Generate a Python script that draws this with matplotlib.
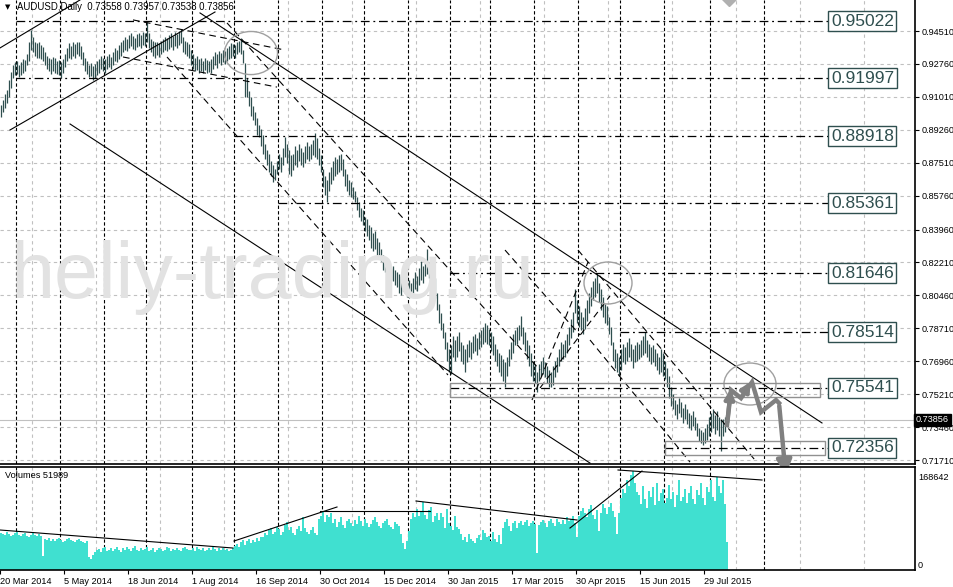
import numpy as np
import matplotlib.pyplot as plt
from matplotlib import font_manager
from matplotlib.patches import Ellipse, Rectangle

_names = {f.name for f in font_manager.fontManager.ttflist}
NARROW = 'Liberation Sans Narrow' if 'Liberation Sans Narrow' in _names else 'Liberation Sans'
plt.rcParams['font.family'] = [NARROW, 'DejaVu Sans']

# daily bars AUDUSD, 20 Mar 2014 .. 13 Aug 2015 (one list entry per bar)
highs = [
    .9060, .9085, .9115, .9140, .9190, .9235, .9270, .9285,  # mar 14
    .9290, .9270, .9285, .9300, .9295, .9330, .9390, .9456, .9420, .9395, .9385,
    .9390, .9375, .9365, .9340, .9320, .9310, .9300, .9315, .9305, .9290, .9295,  # apr
    .9285, .9300, .9330, .9360, .9385, .9370, .9390, .9380, .9395, .9392, .9370,
    .9340, .9310, .9290, .9270, .9280, .9265, .9275, .9290, .9300, .9320, .9310,  # may
    .9300, .9320, .9330, .9315, .9340, .9360, .9350, .9375, .9390, .9405, .9420,
    .9410, .9430, .9440, .9425, .9415, .9435, .9440, .9430, .9445, .9440,  # jun
    .9500, .9440, .9410, .9400, .9390, .9395, .9385, .9400, .9410, .9420, .9415,
    .9430, .9440, .9425, .9445, .9435, .9450, .9460, .9420, .9400, .9390, .9380,  # jul
    .9350, .9330, .9310, .9320, .9300, .9310, .9290, .9305, .9295, .9290, .9300,
    .9320, .9340, .9330, .9345, .9335, .9350, .9345, .9360, .9370, .9385,  # aug
    .9380, .9375, .9395, .9400, .9414, .9350, .9280, .9200, .9130, .9100, .9050,
    .9020, .8990, .8950, .8930, .8900, .8850, .8820, .8800, .8760, .8740, .8720,  # sep
    .8760, .8800, .8780, .8830, .8890, .8850, .8820, .8790, .8800, .8840, .8820,
    .8850, .8830, .8810, .8840, .8860, .8840, .8850, .8870, .8910, .8880, .8830,  # oct
    .8790, .8720, .8680, .8660, .8700, .8730, .8760, .8780, .8770, .8790, .8795,
    .8770, .8720, .8690, .8660, .8650, .8620, .8600, .8570, .8540, .8510,  # nov
    .8500, .8460, .8450, .8420, .8410, .8380, .8390, .8350, .8330, .8290, .8260,
    .8240, .8210, .8200, .8190, .8200, .8180, .8170, .8160, .8150, .8170, .8160,  # dec
    .8150, .8130, .8110, .8140, .8170, .8150, .8190, .8230, .8200, .8240, .8290,
    .8220, .8200, .8180, .8140, .8060, .8000, .7950, .7900, .7850, .7800, .7760,  # jan 15
    .7780, .7830, .7810, .7830, .7850, .7800, .7780, .7760, .7790, .7810,
    .7800, .7830, .7840, .7820, .7850, .7860, .7880, .7900, .7890, .7870,  # feb
    .7850, .7830, .7790, .7760, .7740, .7730, .7710, .7690, .7720, .7760, .7800,
    .7840, .7860, .7880, .7890, .7935, .7880, .7850, .7810, .7780, .7740, .7700,  # mar
    .7680, .7640, .7680, .7700, .7720, .7690, .7670, .7650, .7640, .7670, .7700,
    .7720, .7760, .7800, .7790, .7810, .7840, .7880, .7920, .7960, .8078, .8020,  # apr
    .7990, .7960, .7930, .7980, .8020, .8060, .8090, .8120, .8140, .8163, .8110,
    .8080, .8040, .8000, .7990, .7930, .7880, .7800, .7760, .7740, .7720,  # may
    .7760, .7790, .7770, .7800, .7820, .7790, .7760, .7780, .7800, .7790, .7810,
    .7830, .7850, .7810, .7790, .7770, .7780, .7760, .7740, .7720, .7760, .7740,  # jun
    .7700, .7660, .7620, .7560, .7520, .7490, .7470, .7500, .7480, .7450, .7470,
    .7440, .7420, .7410, .7430, .7400, .7370, .7340, .7330, .7320, .7340, .7360,  # jul
    .7400, .7420, .7440, .7410, .7430, .7400, .7390, .7390, .7400, .7396,  # aug
]
lows = [
    .8995, .9020, .9040, .9070, .9100, .9150, .9200, .9215,
    .9220, .9205, .9215, .9230, .9240, .9270, .9290, .9350, .9340, .9320, .9305,
    .9310, .9300, .9290, .9270, .9250, .9240, .9225, .9240, .9230, .9220, .9215,
    .9200, .9230, .9260, .9290, .9310, .9300, .9320, .9310, .9330, .9320, .9300,
    .9270, .9240, .9220, .9205, .9210, .9190, .9200, .9215, .9230, .9250, .9240,
    .9230, .9250, .9260, .9250, .9270, .9290, .9285, .9300, .9320, .9340, .9350,
    .9345, .9360, .9370, .9355, .9350, .9365, .9370, .9360, .9375, .9370,
    .9390, .9360, .9340, .9320, .9310, .9325, .9315, .9330, .9340, .9350, .9345,
    .9355, .9365, .9350, .9370, .9360, .9375, .9385, .9340, .9330, .9320, .9305,
    .9270, .9250, .9240, .9245, .9230, .9240, .9230, .9245, .9228, .9235, .9230,
    .9250, .9270, .9255, .9280, .9270, .9285, .9275, .9290, .9300, .9310,
    .9320, .9310, .9330, .9340, .9330, .9280, .9100, .9100, .9050, .9000, .8980,
    .8950, .8900, .8890, .8840, .8800, .8770, .8740, .8700, .8680, .8650, .8660,
    .8690, .8720, .8700, .8740, .8780, .8750, .8690, .8680, .8710, .8740, .8730,
    .8760, .8740, .8730, .8750, .8770, .8760, .8770, .8790, .8780, .8770, .8740,
    .8700, .8620, .8580, .8540, .8600, .8640, .8660, .8680, .8690, .8700, .8710,
    .8680, .8630, .8600, .8580, .8570, .8560, .8540, .8500, .8460, .8440,
    .8420, .8390, .8360, .8340, .8300, .8280, .8290, .8260, .8250, .8230, .8180,
    .8170, .8150, .8140, .8130, .8120, .8100, .8090, .8060, .8050, .8070, .8060,
    .8040, .8030, .8040, .8060, .8080, .8070, .8100, .8130, .8110, .8150, .8160,
    .8140, .8120, .8100, .8030, .7970, .7900, .7860, .7820, .7760, .7700, .7640,
    .7626, .7720, .7700, .7720, .7750, .7700, .7680, .7640, .7690, .7720,
    .7710, .7740, .7750, .7730, .7760, .7770, .7790, .7800, .7790, .7780,
    .7750, .7730, .7700, .7670, .7640, .7620, .7590, .7560, .7620, .7670, .7710,
    .7740, .7780, .7790, .7810, .7830, .7790, .7750, .7710, .7670, .7620, .7590,
    .7580, .7532, .7590, .7620, .7630, .7610, .7580, .7560, .7560, .7570, .7610,
    .7640, .7670, .7700, .7710, .7720, .7740, .7780, .7820, .7850, .7950, .7900,
    .7880, .7860, .7840, .7870, .7910, .7950, .7990, .8020, .8040, .8060, .8010,
    .7970, .7930, .7900, .7890, .7840, .7780, .7700, .7660, .7640, .7620,
    .7650, .7690, .7680, .7700, .7720, .7700, .7660, .7690, .7700, .7710, .7720,
    .7730, .7740, .7720, .7700, .7680, .7690, .7670, .7650, .7630, .7640, .7620,
    .7600, .7560, .7500, .7460, .7440, .7410, .7390, .7420, .7400, .7370, .7390,
    .7360, .7340, .7330, .7350, .7330, .7300, .7270, .7260, .7250, .7260, .7280,
    .7300, .7320, .7340, .7310, .7330, .7300, .7220, .7300, .7320, .7354,
]
# tick volume, thousands
volumes_k = [
    62, 60, 58, 64, 60, 57, 59, 61, 63, 58, 56, 60, 62, 57, 55, 59, 61, 58, 56, 60, 57,
    23,
    52, 50, 53, 49, 51, 48, 52, 54, 50, 47, 49, 51, 53, 50, 48, 46, 50, 52, 49, 47, 45, 48,
    22, 18, 25, 30,
    33, 35, 30, 36, 38, 32, 34, 37, 31, 35, 39, 33, 30, 36, 34, 38, 35, 32, 36, 40, 34, 31, 37, 33,
    35, 38, 32, 34, 36, 30, 33, 37, 35, 31, 34, 38, 36, 32, 35, 33, 37, 34, 31, 36, 38, 35, 33,
    34, 36, 32, 38, 35, 33, 37, 31, 34, 36, 33, 38, 35, 32, 36, 34, 37, 33, 35, 31, 34, 36,
    40, 44, 38, 46, 50, 42, 48, 52, 45, 50, 47, 53, 49, 55,
    55, 62, 58, 66, 70, 60, 64, 72, 68, 59, 63, 75, 80, 66, 71, 62, 58, 69, 73, 65, 88, 70, 64, 60,
    67, 72, 61, 58,
    85, 90, 97, 80, 92, 88, 95,
    78, 85, 72, 80, 88, 75, 70, 82, 86, 79, 74, 83, 77, 90, 81, 73, 85, 79, 72, 76, 84, 88, 80, 74,
    70, 78, 82, 86, 75, 71, 68, 80, 77, 73,
    60, 45, 35, 48, 65,
    85, 95, 88, 102, 90, 98, 114, 92, 86, 100, 105, 80, 90, 96, 84,
    95, 88, 70, 102, 78, 74, 66, 90, 72, 68, 60,
    50, 55, 47, 60, 52, 48, 45, 53, 58, 50, 66, 62, 55, 57, 49, 63, 52, 47, 58, 44,
    70, 80, 85, 74, 65, 78, 82, 70,
    78, 82, 75, 80, 84, 73, 79, 81, 76, 28,
    75, 80, 84, 78, 72, 82, 86, 79, 74, 85, 80, 77, 83, 76, 88, 81, 85, 90, 78, 55,
    90, 98, 104, 95, 88, 102, 108, 92, 86, 100, 65, 96, 110, 103, 94, 106, 112, 99, 88, 60, 95,
    120, 135, 128, 150, 140, 158, 165, 145, 130,
    125, 110, 140, 118, 104, 132, 122, 138, 108, 145, 115, 128, 135, 112, 120, 142, 118, 130,
    105, 126, 150, 115, 122, 136, 112, 128, 140, 119, 110, 133, 125, 145, 120, 108, 138, 130,
    150, 122, 116, 155, 140, 128, 150, 110, 47,
]

date_labels = ['20 Mar 2014', '5 May 2014', '18 Jun 2014', '1 Aug 2014', '16 Sep 2014',
               '30 Oct 2014', '15 Dec 2014', '30 Jan 2015', '17 Mar 2015', '30 Apr 2015',
               '15 Jun 2015', '29 Jul 2015']
price_ticks = [0.94510, 0.92760, 0.91010, 0.89260, 0.87510, 0.85760, 0.83960,
               0.82210, 0.80460, 0.78710, 0.76960, 0.75210, 0.73460, 0.71710]
month_starts = [8, 30, 52, 73, 96, 117, 139, 161, 182, 204, 225, 245, 267, 289, 310, 332, 355, 382]

levels = [0.95022, 0.91997, 0.88918, 0.85361, 0.81646, 0.78514, 0.75541, 0.72356]
level_from = [8, 8, 117, 139, 225, 310, 225, 332]
last_price = 0.73856

# trend lines (bar index, price)
solid_lines = [(-0.5, 0.9361, 39.5, 0.9616), (4.5, 0.8925, 107, 0.9552),
               (99.5, 0.9547, 410.5, 0.7368), (34.5, 0.8957, 294.5, 0.7155)]
dashed_lines = [(66, 0.9510, 142, 0.9350), (61, 0.9313, 138, 0.9153),
                (113, 0.9494, 269.5, 0.7649), (83, 0.9313, 223.5, 0.7623),
                (288.5, 0.8287, 377, 0.7171), (294.5, 0.7809, 344.5, 0.7160),
                (252, 0.8287, 289.5, 0.7835), (265.5, 0.7490, 293.5, 0.8223),
                (269.5, 0.7554, 304.5, 0.8043)]
vol_lines = [(-0.5, 66.8, 116, 36.7), (116.5, 48.4, 168, 105.2), (159.5, 98.5, 214.5, 98.5),
             (207.5, 115.2, 288, 83.5), (284.5, 70.1, 320.5, 165.3), (308.5, 167.0, 380.5, 150.3)]
circles = [(125, 0.9334, 26.5, 0.0229), (303.5, 0.8112, 24, 0.0223), (374.5, 0.7575, 26, 0.0223)]
boxes = [(224.5, 0.7506, 409.5, 0.7581), (332, 0.7198, 412, 0.7272)]
zz_x = [363, 365, 370, 375.5, 380, 387.5, 389]
zz_y = [0.7357, 0.7543, 0.7500, 0.7585, 0.7426, 0.7490, 0.7474]
drop_end = (392.5, 0.7076)

W, H = 954, 587
fig = plt.figure(figsize=(W / 100, H / 100), dpi=100)


def px(x0, y0, x1, y1):
    return [x0 / W, 1 - y1 / H, (x1 - x0) / W, (y1 - y0) / H]


ax = fig.add_axes(px(0, 0, 915, 464))
axv = fig.add_axes(px(0, 467, 915, 570))
n = len(highs)
idx = np.arange(n)
xmax = 457

slate = '#2f4f4f'
grid_c = '#c0c0c0'
small = 6.6

for a in (ax, axv):
    a.set_xlim(-0.5, xmax)
    for s in ('left', 'top'):
        a.spines[s].set_visible(False)
    a.spines['right'].set_linewidth(1.2)
    a.spines['bottom'].set_linewidth(1.2)
    for k in range(15):
        a.axvline(15.5 + 32 * k, color=grid_c, lw=0.8, ls=(0, (3, 3)), zorder=0)
    for m in month_starts:
        a.axvline(m - 0.5, color='black', lw=0.8, ls=(0, (3, 2)), zorder=1)
axv.spines['top'].set_visible(True)
axv.spines['top'].set_linewidth(1.2)

ax.set_ylim(0.7150, 0.96158)
ax.set_xticks([])
ax.set_yticks(price_ticks)
ax.set_yticklabels(['%.5f' % t for t in price_ticks])
ax.yaxis.tick_right()
ax.tick_params(axis='y', length=3, pad=1.5, labelsize=small)
for t in price_ticks:
    ax.axhline(t, color=grid_c, lw=0.8, ls=(0, (3, 3)), zorder=0)

fig.text(10 / W, 1 - 298 / H, 'heliy-trading.ru', fontsize=57, color='#e2e2e2',
         va='baseline', zorder=0)

ax.axhline(last_price, color=grid_c, lw=0.8, zorder=1)
ax.vlines(idx, lows[:n], highs, color=slate, lw=0.9, zorder=3)

for i, (lv, st) in enumerate(zip(levels, level_from)):
    ax.plot([st - 0.5, 413.5], [lv, lv], color='black', lw=0.9,
            ls=(0, (7, 3, 1.5, 3)), zorder=4)
    ax.text(415, lv, '%.5f' % lv, color=slate, fontsize=12.5, va='center', ha='left',
            bbox=dict(boxstyle='square,pad=0.15', fc='white', ec=slate, lw=1), zorder=6)

for x0, p0, x1, p1 in solid_lines:
    ax.plot([x0, x1], [p0, p1], color='black', lw=0.8, zorder=4)
for x0, p0, x1, p1 in dashed_lines:
    ax.plot([x0, x1], [p0, p1], color='black', lw=0.8, ls=(0, (6, 4)), zorder=4)
for cx, cy, w, h in circles:
    ax.add_patch(Ellipse((cx, cy), w, h, fill=False, ec='#a0a0a0', lw=1, zorder=5))
for x0, p0, x1, p1 in boxes:
    ax.add_patch(Rectangle((x0, p0), x1 - x0, p1 - p0, fill=False, ec='#909090', lw=1, zorder=5))

arrow_c = '#808080'
ax.plot(zz_x, zz_y, color=arrow_c, lw=3.2, solid_joinstyle='miter', zorder=7)
ax.annotate('', xy=(zz_x[1], zz_y[1] + 0.002), xytext=(zz_x[0], zz_y[0]),
            arrowprops=dict(arrowstyle='-|>', color=arrow_c, lw=3, mutation_scale=14), zorder=7)
ax.annotate('', xy=(zz_x[3], zz_y[3] + 0.0015), xytext=(zz_x[2], zz_y[2]),
            arrowprops=dict(arrowstyle='-|>', color=arrow_c, lw=3, mutation_scale=14), zorder=7)
ax.annotate('', xy=drop_end, xytext=(zz_x[-1], zz_y[-1]), annotation_clip=False,
            arrowprops=dict(arrowstyle='-|>', color=arrow_c, lw=3.2, mutation_scale=22), zorder=8)
ax.plot([364], [0.9632], marker='D', ms=9, color='#b0b0b0', zorder=7)

fig.text(916 / W, 1 - 420 / H, '%.5f' % last_price, color='white', fontsize=small, va='center',
         bbox=dict(boxstyle='square,pad=0.2', fc='black', ec='black'))
fig.text(5 / W, 1 - 7 / H, '\u25bc', fontsize=5, va='center', family='DejaVu Sans')
fig.text(17 / W, 1 - 7 / H, 'AUDUSD,Daily  0.73558 0.73957 0.73538 0.73856', fontsize=6.9,
         va='center')

axv.bar(idx, volumes_k[:n], width=1.0, color='#40e0d0', lw=0, zorder=2)
for x0, v0, x1, v1 in vol_lines:
    axv.plot([x0, x1], [v0, v1], color='black', lw=0.8, zorder=4)
axv.set_ylim(0, 172)
axv.set_yticks([])
axv.set_xticks(np.arange(len(date_labels)) * 32 - 0.5)
axv.set_xticklabels(date_labels, ha='left', fontsize=small)
axv.tick_params(axis='x', length=3, pad=2)
fig.text(5 / W, 1 - 475 / H, 'Volumes 51989', fontsize=small, va='center')
fig.text(918 / W, 1 - 477 / H, '168642', fontsize=small, va='center')
fig.text(918 / W, 1 - 565 / H, '0', fontsize=small, va='center')

fig.savefig('out.png', dpi=100)
